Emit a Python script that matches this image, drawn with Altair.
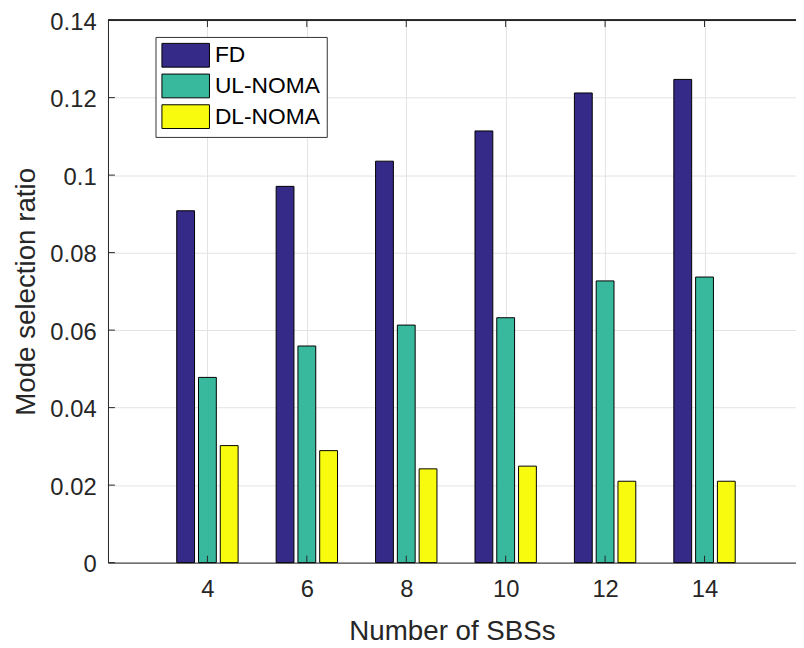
import altair as alt
import pandas as pd

# ---- data ----
sbs = [4, 6, 8, 10, 12, 14]
series = ["FD", "UL-NOMA", "DL-NOMA"]
fd = [0.0908, 0.0971, 0.1036, 0.1114, 0.1212, 0.1247]
ul_noma = [0.0478, 0.0559, 0.0613, 0.0632, 0.0727, 0.0737]
dl_noma = [0.0302, 0.0289, 0.0242, 0.0249, 0.0210, 0.0210]
colors = ["#352a87", "#38b99e", "#f9fb0e"]
x_ticks = [4, 6, 8, 10, 12, 14]
y_ticks = [0, 0.02, 0.04, 0.06, 0.08, 0.1, 0.12, 0.14]

rows = []
for name, vals in zip(series, [fd, ul_noma, dl_noma]):
    for s, v in zip(sbs, vals):
        rows.append({"sbs": s, "series": name, "value": v})
df = pd.DataFrame(rows)
xt_df = pd.DataFrame({"t": x_ticks})
yt_df = pd.DataFrame({"t": y_ticks})

W, H = 695, 548
FONT = "Liberation Sans"
AX = "#262626"

x_scale = alt.Scale(domain=[2, 15.84], nice=False, zero=False, padding=0)
y_scale = alt.Scale(domain=[0, 0.14], nice=False, padding=0)

x_axis = alt.Axis(values=x_ticks, title="Number of SBSs", grid=True, ticks=False, tickSize=0,
                  labelFontSize=24, labelFont=FONT, labelColor=AX, labelPadding=15,
                  titleFontSize=28, titleFont=FONT, titleColor=AX, titleFontWeight="normal",
                  titlePadding=17, domainColor=AX, domainWidth=1, gridColor="#e3e3e3",
                  labelFlush=False)
y_axis = alt.Axis(values=y_ticks, title="Mode selection ratio", format="~g", grid=True,
                  ticks=False, tickSize=0, labelFontSize=24, labelFont=FONT, labelColor=AX,
                  labelPadding=12, labelOffset=2, titleFontSize=28, titleFont=FONT,
                  titleColor=AX, titleFontWeight="normal", titlePadding=10, domainColor=AX,
                  domainWidth=1, gridColor="#e3e3e3", labelFlush=False)

legend = alt.Legend(
    title=None, orient="none", legendX=48, legendY=17,
    symbolType="M-1,-1H3V1H-1Z", symbolSize=576, symbolStrokeColor="black",
    symbolStrokeWidth=1, symbolOpacity=1,
    labelFontSize=23, labelFont=FONT, labelColor="black", labelOffset=29,
    rowPadding=2, padding=6, strokeColor="#333333", fillColor="white",
)
color = alt.Color("series:N", scale=alt.Scale(domain=series, range=colors), legend=legend)


def bars(name, off):
    return (
        alt.Chart(df)
        .transform_filter(alt.datum.series == name)
        .mark_bar(size=18, xOffset=off, stroke="black", strokeWidth=1, opacity=1)
        .encode(
            x=alt.X("sbs:Q", scale=x_scale, axis=x_axis),
            y=alt.Y("value:Q", scale=y_scale, axis=y_axis),
            color=color,
        )
    )


layers = [bars("FD", -22), bars("UL-NOMA", 0), bars("DL-NOMA", 22)]

# inward tick marks (MATLAB style) and top box line
bottom_ticks = alt.Chart(xt_df).mark_rule(color=AX, strokeWidth=1).encode(
    x=alt.X("t:Q", scale=x_scale, axis=x_axis), y=alt.value(H), y2=alt.value(H - 7))
top_ticks = alt.Chart(xt_df).mark_rule(color=AX, strokeWidth=1).encode(
    x=alt.X("t:Q", scale=x_scale, axis=x_axis), y=alt.value(0), y2=alt.value(7))
left_ticks = alt.Chart(yt_df).mark_rule(color=AX, strokeWidth=1).encode(
    y=alt.Y("t:Q", scale=y_scale, axis=y_axis), x=alt.value(0), x2=alt.value(7))
top_line = alt.Chart(xt_df).mark_rule(color=AX, strokeWidth=1).encode(
    x=alt.value(0), x2=alt.value(W), y=alt.value(0))

chart = (
    alt.layer(*layers, bottom_ticks, top_ticks, left_ticks, top_line)
    .properties(width=W, height=H, autosize=alt.AutoSizeParams(type="none"),
                padding={"left": 101, "top": 9, "right": 0, "bottom": 83})
    .configure_view(stroke=None)
    .configure(background="white")
)

chart.save("out.html", embed_options={"renderer": "svg", "actions": False})
